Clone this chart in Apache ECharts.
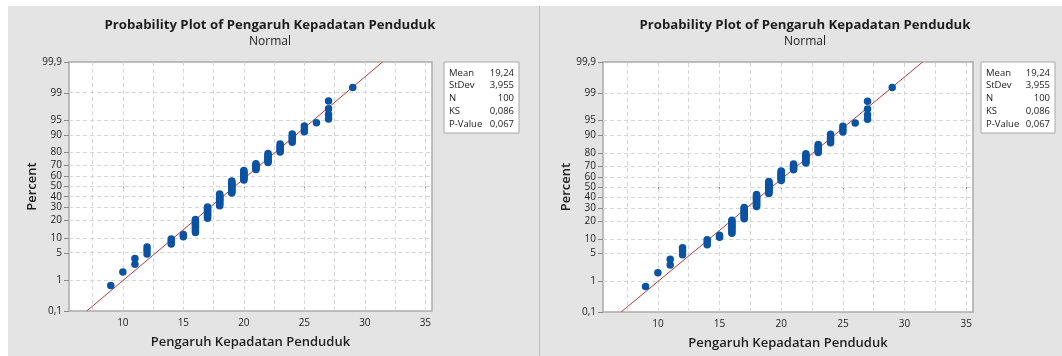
<!DOCTYPE html>
<html>
<head>
<meta charset="utf-8">
<script src="https://cdn.jsdelivr.net/npm/echarts@6/dist/echarts.min.js"></script>
<style>
html,body{margin:0;padding:0;background:#ffffff;}
#chart{width:1062px;height:356px;}
</style>
</head>
<body>
<div id="chart"></div>
<script>
// ---------- data ----------
const titleText = 'Probability Plot of Pengaruh Kepadatan Penduduk';
const subtitleText = 'Normal';
const xAxisName = 'Pengaruh Kepadatan Penduduk';
const yAxisName = 'Percent';
const percentTicks = [0.1, 1, 5, 10, 20, 30, 40, 50, 60, 70, 80, 90, 95, 99, 99.9];
const xTicks = [10, 15, 20, 25, 30, 35];
const xGridLines = [7.5, 10, 12.5, 15, 17.5, 20, 22.5, 25, 27.5, 30, 32.5, 35];
const dataValues = [9, 10, 11, 12, 14, 15, 16, 17, 18, 19, 20, 21, 22, 23, 24, 25, 26, 27, 29];
const dataCounts = [1, 1, 2, 3, 3, 2, 9, 10, 12, 13, 10, 6, 8, 6, 5, 3, 1, 4, 1];
const statLabels = ['Mean', 'StDev', 'N', 'KS', 'P-Value'];
const statValues = ['19,24', '3,955', '100', '0,086', '0,067'];

// ---------- helpers ----------
function normInv(p) {
  const a = [-3.969683028665376e+01, 2.209460984245205e+02, -2.759285104469687e+02, 1.383577518672690e+02, -3.066479806614716e+01, 2.506628277459239e+00];
  const b = [-5.447609879822406e+01, 1.615858368580409e+02, -1.556989798598866e+02, 6.680131188771972e+01, -1.328068155288572e+01];
  const c = [-7.784894002430293e-03, -3.223964580411365e-01, -2.400758277161838e+00, -2.549732539343734e+00, 4.374664141464968e+00, 2.938163982698783e+00];
  const d = [7.784695709041462e-03, 3.224671290700398e-01, 2.445134137142996e+00, 3.754408661907416e+00];
  const pl = 0.02425, ph = 1 - pl;
  let q, r;
  if (p < pl) {
    q = Math.sqrt(-2 * Math.log(p));
    return (((((c[0]*q+c[1])*q+c[2])*q+c[3])*q+c[4])*q+c[5]) / ((((d[0]*q+d[1])*q+d[2])*q+d[3])*q+1);
  } else if (p <= ph) {
    q = p - 0.5; r = q*q;
    return (((((a[0]*r+a[1])*r+a[2])*r+a[3])*r+a[4])*r+a[5])*q / (((((b[0]*r+b[1])*r+b[2])*r+b[3])*r+b[4])*r+1);
  } else {
    q = Math.sqrt(-2 * Math.log(1 - p));
    return -(((((c[0]*q+c[1])*q+c[2])*q+c[3])*q+c[4])*q+c[5]) / ((((d[0]*q+d[1])*q+d[2])*q+d[3])*q+1);
  }
}
const num = s => parseFloat(String(s).replace(',', '.'));
const zTicks = percentTicks.map(p => normInv(p / 100));
const zMin = zTicks[0], zMax = zTicks[zTicks.length - 1];
const fmtPct = v => {
  let best = 0, bd = Infinity;
  zTicks.forEach((z, i) => { const dd = Math.abs(z - v); if (dd < bd) { bd = dd; best = i; } });
  return String(percentTicks[best]).replace('.', ',');
};

// expand sorted observations and median-rank plotting positions
const sorted = [];
dataValues.forEach((v, i) => { for (let k = 0; k < dataCounts[i]; k++) sorted.push(v); });
const n = sorted.length;
const points = sorted.map((v, i) => [v, normInv((i + 1 - 0.3) / (n + 0.4))]);

const mean = num(statValues[0]), sd = num(statValues[1]);
const fitLine = [[mean + zMin * sd, zMin], [mean + zMax * sd, zMax]];

const FONT = 'Open Sans';
const panels = [
  { left: 69, top: 62, width: 363, height: 249, bgX: 8, bgW: 531, titleX: 270, legX: 444, legW: 75 },
  { left: 603, top: 62, width: 370, height: 250, bgX: 540, bgW: 522, titleX: 805, legX: 981, legW: 74 }
];

const grids = [], xAxes = [], yAxes = [], series = [], graphics = [];

graphics.push({ type: 'rect', shape: { x: 0, y: 0, width: 1062, height: 356 }, style: { fill: '#ffffff' }, z: -10, silent: true });

panels.forEach((P, i) => {
  graphics.push({ type: 'rect', shape: { x: P.bgX, y: 6, width: P.bgW, height: 350 }, style: { fill: '#e4e4e4' }, z: -9, silent: true });
  graphics.push({ type: 'text', x: P.titleX, y: 25, style: { text: titleText, font: 'bold 13.2px "' + FONT + '"', fill: '#1e1e1e', textAlign: 'center', textVerticalAlign: 'middle' }, z: 5 });
  graphics.push({ type: 'text', x: P.titleX, y: 42, style: { text: subtitleText, font: '12px "' + FONT + '"', fill: '#1e1e1e', textAlign: 'center', textVerticalAlign: 'middle' }, z: 5 });
  // stats box
  const boxH = 71;
  graphics.push({ type: 'rect', shape: { x: P.legX, y: 62, width: P.legW, height: boxH }, style: { fill: '#ffffff', stroke: '#a8a8a8', lineWidth: 1 }, z: 5 });
  statLabels.forEach((lab, k) => {
    const yy = 73 + k * 12.7;
    graphics.push({ type: 'text', x: P.legX + 5, y: yy, style: { text: lab, font: '9.5px "' + FONT + '"', fill: '#222', textAlign: 'left', textVerticalAlign: 'middle' }, z: 6 });
    graphics.push({ type: 'text', x: P.legX + P.legW - 5, y: yy, style: { text: statValues[k], font: '9.5px "' + FONT + '"', fill: '#222', textAlign: 'right', textVerticalAlign: 'middle' }, z: 6 });
  });

  grids.push({ left: P.left, top: P.top, width: P.width, height: P.height, show: true, backgroundColor: '#ffffff', borderColor: '#aaaaaa', borderWidth: 1.5, containLabel: false });
  xAxes.push({
    type: 'value', gridIndex: i, min: 5.55, max: 35.55,
    name: xAxisName, nameLocation: 'middle', nameGap: 25,
    nameTextStyle: { fontFamily: FONT, fontSize: 13, color: '#1e1e1e', fontWeight: 600 },
    axisLine: { show: false },
    axisTick: { show: true, customValues: xTicks, length: 4, lineStyle: { color: '#888' } },
    axisLabel: { customValues: xTicks, fontFamily: FONT, fontSize: 10, color: '#222', margin: 7 },
    splitLine: { show: false }
  });
  yAxes.push({
    type: 'value', gridIndex: i, min: zMin, max: zMax,
    name: yAxisName, nameLocation: 'middle', nameGap: 28, nameRotate: 90,
    nameTextStyle: { fontFamily: FONT, fontSize: 13, color: '#1e1e1e', fontWeight: 600 },
    axisLine: { show: false },
    axisTick: { show: true, customValues: zTicks, length: 5, lineStyle: { color: '#888' } },
    axisLabel: { customValues: zTicks, formatter: fmtPct, fontFamily: FONT, fontSize: 10, color: '#222', margin: 7 },
    splitLine: { show: false }
  });

  const gridMarks = [];
  xGridLines.forEach(v => gridMarks.push({ xAxis: v }));
  zTicks.slice(1, -1).forEach(z => gridMarks.push({ yAxis: z }));

  series.push({
    type: 'line', xAxisIndex: i, yAxisIndex: i, data: fitLine, showSymbol: false, symbol: 'none',
    lineStyle: { color: '#b23a3a', width: 1 }, silent: true, clip: true, z: 2,
    markLine: { silent: true, symbol: ['none', 'none'], label: { show: false },
      lineStyle: { color: '#d6d6d6', type: [4, 3], width: 1 }, emphasis: { disabled: true }, data: gridMarks, z: 1 }
  });
  series.push({
    type: 'scatter', xAxisIndex: i, yAxisIndex: i, data: points, symbol: 'circle', symbolSize: 7.5,
    itemStyle: { color: '#0a53a3', opacity: 1 }, z: 3, silent: true
  });
});

graphics.push({ type: 'line', shape: { x1: 539.5, y1: 6, x2: 539.5, y2: 356 }, style: { stroke: '#bdbdbd', lineWidth: 1 }, z: 4, silent: true });

const chart = echarts.init(document.getElementById('chart'), null, { renderer: 'canvas' });
chart.setOption({
  animation: false,
  backgroundColor: '#ffffff',
  grid: grids, xAxis: xAxes, yAxis: yAxes, series: series,
  graphic: graphics
});
</script>
</body>
</html>
